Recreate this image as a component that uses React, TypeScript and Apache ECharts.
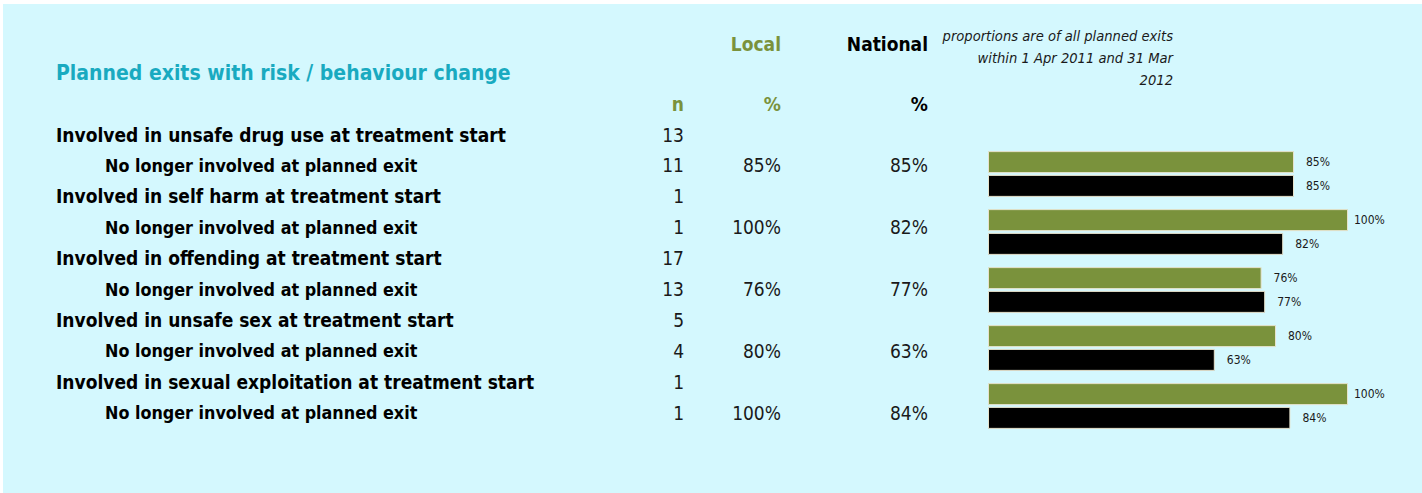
import React, { useEffect, useRef } from "react";
import * as echarts from "echarts";

const title = "Planned exits with risk / behaviour change";
const noteLines = [
  "proportions are of all planned exits",
  "within 1 Apr 2011 and 31 Mar",
  "2012",
];
const rowLabels = [
  "Involved in unsafe drug use at treatment start",
  "No longer involved at planned exit",
  "Involved in self harm at treatment start",
  "No longer involved at planned exit",
  "Involved in offending at treatment start",
  "No longer involved at planned exit",
  "Involved in unsafe sex at treatment start",
  "No longer involved at planned exit",
  "Involved in sexual exploitation at treatment start",
  "No longer involved at planned exit",
];
const rowIsSub = [false, true, false, true, false, true, false, true, false, true];
const nValues = [13, 11, 1, 1, 17, 13, 5, 4, 1, 1];
const localPctText = ["", "85%", "", "100%", "", "76%", "", "80%", "", "100%"];
const nationalPctText = ["", "85%", "", "82%", "", "77%", "", "63%", "", "84%"];

const barCategories = ["Unsafe drug use", "Self harm", "Offending", "Unsafe sex", "Sexual exploitation"];
const localValues = [85, 100, 76, 80, 100];
const nationalValues = [85, 82, 77, 63, 84];

const FONT = "'Liberation Sans Narrow', 'DejaVu Sans Condensed', 'Roboto', sans-serif";
const GREEN = "#7a923c";
const TEAL = "#19aac0";
const TEXT = "#1a1a1a";

export default function App() {
  const ref = useRef<HTMLDivElement>(null);
  useEffect(() => {
    document.body.style.margin = "0";
    const chart = echarts.init(ref.current!, null, { renderer: "svg" });

    const rowY0 = 134.5;
    const rowStep = 30.9;
    const graphics: any[] = [
      { type: "rect", z: -10, shape: { x: 3, y: 4, width: 1419, height: 489 }, style: { fill: "#d4f8fe" } },
      {
        type: "text", x: 56, y: 73,
        style: { text: title, font: `bold 21px ${FONT}`, fill: TEAL, textAlign: "left", textVerticalAlign: "middle" },
      },
      { type: "text", x: 781, y: 44, style: { text: "Local", font: `bold 19px ${FONT}`, fill: GREEN, textAlign: "right", textVerticalAlign: "middle" } },
      { type: "text", x: 928, y: 44, style: { text: "National", font: `bold 19px ${FONT}`, fill: "#000", textAlign: "right", textVerticalAlign: "middle" } },
      { type: "text", x: 684, y: 104, style: { text: "n", font: `bold 19px ${FONT}`, fill: GREEN, textAlign: "right", textVerticalAlign: "middle" } },
      { type: "text", x: 781, y: 104, style: { text: "%", font: `bold 19px ${FONT}`, fill: GREEN, textAlign: "right", textVerticalAlign: "middle" } },
      { type: "text", x: 928, y: 104, style: { text: "%", font: `bold 19px ${FONT}`, fill: "#000", textAlign: "right", textVerticalAlign: "middle" } },
    ];
    noteLines.forEach((t, i) => {
      graphics.push({
        type: "text", x: 1173, y: 35 + i * 22,
        style: { text: t, font: `italic 14.6px ${FONT}`, fill: TEXT, textAlign: "right", textVerticalAlign: "middle" },
      });
    });
    rowLabels.forEach((t, i) => {
      const y = rowY0 + i * rowStep;
      graphics.push({
        type: "text", x: rowIsSub[i] ? 105 : 56, y,
        style: { text: t, font: `bold ${rowIsSub[i] ? 17.8 : 19}px ${FONT}`, fill: "#000", textAlign: "left", textVerticalAlign: "middle" },
      });
      graphics.push({
        type: "text", x: 684, y,
        style: { text: String(nValues[i]), font: `19px ${FONT}`, fill: TEXT, textAlign: "right", textVerticalAlign: "middle" },
      });
      if (localPctText[i]) {
        graphics.push({
          type: "text", x: 781, y,
          style: { text: localPctText[i], font: `19px ${FONT}`, fill: TEXT, textAlign: "right", textVerticalAlign: "middle" },
        });
      }
      if (nationalPctText[i]) {
        graphics.push({
          type: "text", x: 928, y,
          style: { text: nationalPctText[i], font: `19px ${FONT}`, fill: TEXT, textAlign: "right", textVerticalAlign: "middle" },
        });
      }
    });

    const labelCfg = {
      show: true, position: "right", distance: 12,
      formatter: "{c}%", fontFamily: FONT, fontSize: 12, color: TEXT,
    };
    const mkData = (vals: number[]) =>
      vals.map((v) => (v >= 100 ? { value: v, label: { distance: 6 } } : v));

    chart.setOption({
      animation: false,
      backgroundColor: "#ffffff",
      grid: { left: 988, top: 145, width: 360, height: 290, containLabel: false },
      xAxis: { type: "value", min: 0, max: 100, show: false },
      yAxis: {
        type: "category", data: barCategories, inverse: true, show: false,
      },
      series: [
        {
          name: "Local", type: "bar", data: mkData(localValues), barWidth: 22, barGap: "8%",
          itemStyle: { color: GREEN, borderColor: "#e6e2cc", borderWidth: 1 },
          label: labelCfg,
        },
        {
          name: "National", type: "bar", data: mkData(nationalValues), barWidth: 22,
          itemStyle: { color: "#000000", borderColor: "#e6e2cc", borderWidth: 1 },
          label: labelCfg,
        },
      ],
      graphic: graphics,
    });
    return () => chart.dispose();
  }, []);
  return <div ref={ref} style={{ width: 1422, height: 493 }} />;
}
